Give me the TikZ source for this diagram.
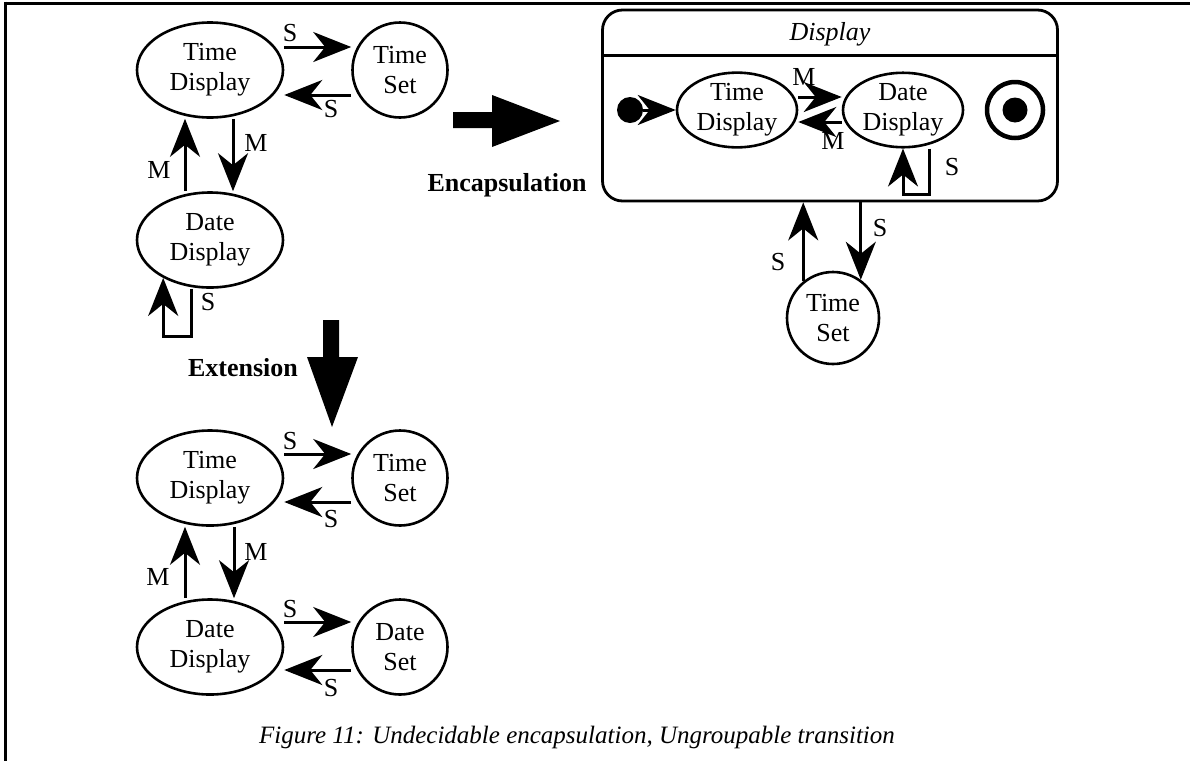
\documentclass[tikz,border=0pt]{standalone}
\usepackage{fontspec}
\setmainfont{Liberation Serif}
\usetikzlibrary{arrows.meta,shapes.geometric}
\begin{document}
\begin{tikzpicture}[x=1pt,y=-1pt,
  every node/.style={font=\fontsize{26}{30}\selectfont},
  ell/.style={draw, ellipse, line width=2.6pt, minimum width=146pt, minimum height=95pt,
              inner sep=0pt, align=center},
  ellin/.style={draw, ellipse, line width=2.6pt, minimum width=120pt, minimum height=74pt,
              inner sep=0pt, align=center},
  circ/.style={draw, circle, line width=2.6pt, minimum size=95pt, inner sep=0pt, align=center},
  tr/.style={line width=3pt, -{Stealth[length=38pt,width=30pt,inset=12pt]}},
  lbl/.style={inner sep=0pt},
  big/.style={fill=black},
  framel/.style={line width=3.4pt}
]
\useasboundingbox (0,0) rectangle (1190,761);

% page frame (top and left rules)
\draw[framel] (4,3.4) -- (1190,3.4);
\draw[framel] (5.6,1.7) -- (5.6,761);

% ---------- original machine ----------
\node[ell]  (td1) at (210,70)  {Time\\Display};
\node[circ] (ts1) at (400,70)  {Time\\Set};
\node[ell]  (dd1) at (210,240) {Date\\Display};

\draw[tr] ([yshift=23pt]td1.east) -- ([yshift=23pt]ts1.west);
\draw[tr] ([yshift=-25pt]ts1.west) -- ([yshift=-25pt]td1.east);
\draw[tr] ([xshift=-25pt]dd1.north) -- ([xshift=-25pt]td1.south);
\draw[tr] ([xshift=23pt]td1.south) -- ([xshift=23pt]dd1.north);
\draw[tr] ([xshift=-19pt]dd1.south) -- ++(0,48) -| (dd1.219);

\node[lbl] (s1a) at (290,33)  {S};
\node[lbl] (s1b) at (331,109) {S};
\node[lbl] (m1a) at (159,170) {M};
\node[lbl] (m1b) at (256,143) {M};
\node[lbl] (s1c) at (208,302) {S};

% ---------- transformation arrows ----------
\fill[big] (453,112) -- (492,112) -- (492,95) -- (560,121) -- (492,147) -- (492,128) -- (453,128) -- cycle;
\node[font=\fontsize{26}{30}\selectfont\bfseries] (enc) at (507,185) {Encapsulation};

\fill[big] (323,320) -- (339,320) -- (339,357) -- (358,357) -- (332,427) -- (307,357) -- (323,357) -- cycle;
\node[font=\fontsize{26}{30}\selectfont\bfseries] (ext) at (243,368) {Extension};

% ---------- encapsulated machine ----------
\node[draw, line width=2.8pt, rounded corners=20pt, minimum width=455pt, minimum height=191pt,
      inner sep=0pt] (disp) at (830,105.5) {};
\draw[line width=2.8pt] ([yshift=-47pt]disp.north west) -- ([yshift=-47pt]disp.north east);
\node[font=\fontsize{26}{30}\selectfont\itshape] (dname) at (830,34) {Display};

\node[fill, circle, minimum size=26pt, inner sep=0pt] (init) at (630,110) {};
\node[ellin] (tdi) at (737,110) {Time\\Display};
\node[ellin] (ddi) at (903,110) {Date\\Display};
\node[draw, circle, line width=4.5pt, minimum size=56pt, inner sep=0pt] (fin) at (1015,110) {};
\node[fill, circle, minimum size=25pt, inner sep=0pt] (findot) at (fin) {};

\draw[tr] (init) -- (tdi);
\draw[tr] ([yshift=13pt]tdi.east) -- ([yshift=13pt]ddi.west);
\draw[tr] ([yshift=-12pt]ddi.west) -- ([yshift=-12pt]tdi.east);
\draw[tr] ([xshift=26pt]ddi.south) -- ++(0,46) -| (ddi.south);

\node[lbl] (m2a) at (804,77)  {M};
\node[lbl] (m2b) at (833,141) {M};
\node[lbl] (s2a) at (952,167) {S};

\node[circ, minimum size=92pt] (ts2) at (833,318) {Time\\Set};
\draw[tr] (ts2.129) -- (ts2.129 |- disp.south);
\draw[tr] (ts2.54 |- disp.south) -- (ts2.54);
\node[lbl] (s2b) at (778,262) {S};
\node[lbl] (s2c) at (880,228) {S};

% ---------- extended machine ----------
\node[ell]  (td3) at (210,478) {Time\\Display};
\node[circ] (ts3) at (400,478) {Time\\Set};
\node[ell]  (dd3) at (210,647) {Date\\Display};
\node[circ] (ds3) at (400,647) {Date\\Set};

\draw[tr] ([yshift=24pt]td3.east) -- ([yshift=24pt]ts3.west);
\draw[tr] ([yshift=-24pt]ts3.west) -- ([yshift=-24pt]td3.east);
\draw[tr] ([xshift=-25pt]dd3.north) -- ([xshift=-25pt]td3.south);
\draw[tr] ([xshift=24pt]td3.south) -- ([xshift=24pt]dd3.north);
\draw[tr] ([yshift=25pt]dd3.east) -- ([yshift=25pt]ds3.west);
\draw[tr] ([yshift=-23pt]ds3.west) -- ([yshift=-23pt]dd3.east);

\node[lbl] (s3a) at (290,441) {S};
\node[lbl] (s3b) at (331,519) {S};
\node[lbl] (m3a) at (158,577) {M};
\node[lbl] (m3b) at (256,552) {M};
\node[lbl] (s3c) at (290,609) {S};
\node[lbl] (s3d) at (331,688) {S};

% caption
\node[font=\fontsize{25}{30}\selectfont\itshape] (cap) at (577,737)
  {Figure 11: Undecidable encapsulation, Ungroupable transition};
\end{tikzpicture}
\end{document}
